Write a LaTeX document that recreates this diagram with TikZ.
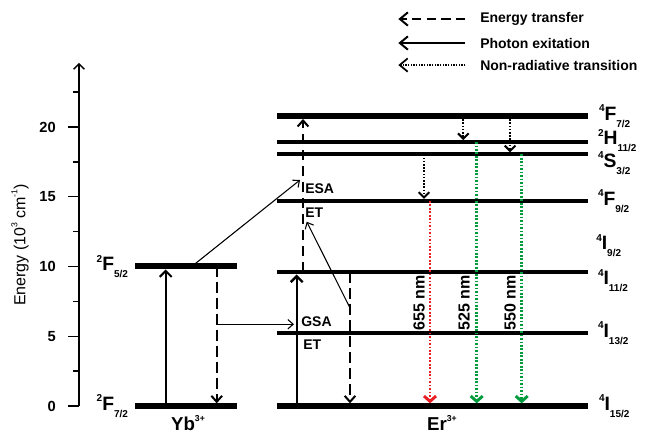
\documentclass[tikz,border=0pt]{standalone}
\usepackage{fontspec}
\setmainfont{Liberation Sans}
\usetikzlibrary{arrows.meta}

\definecolor{emred}{RGB}{235,30,35}
\definecolor{emgreen}{RGB}{0,155,60}

% term symbol: ^{2S+1}L_J
\newcommand{\term}[3]{\raisebox{0.45em}{\fontsize{7.5}{8}\selectfont#1}#2\raisebox{-0.36em}{\fontsize{7.5}{8}\selectfont#3}}
\newcommand{\sups}[1]{\raisebox{0.5em}{\fontsize{6.5}{7}\selectfont#1}}

\begin{document}
\begin{tikzpicture}[x=0.75pt, y=10.4625pt,
        lvl/.style={line width=3pt},
        glvl/.style={line width=4.5pt},
        term/.style={font=\fontsize{14.5}{15}\selectfont\bfseries, inner sep=0pt},
        lab/.style={font=\fontsize{10.5}{12}\selectfont\bfseries, inner sep=0pt},
        ticklab/.style={font=\fontsize{11}{12}\selectfont\bfseries, inner sep=0pt},
        wave/.style={font=\fontsize{12}{13}\selectfont\bfseries, inner sep=0pt, rotate=90},
        ionlab/.style={font=\fontsize{14}{15}\selectfont\bfseries, inner sep=0pt},
        photon/.style={line width=1.5pt, -{Straight Barb[length=4.5pt,width=9pt]}, shorten >=1.5pt},
        transfer/.style={line width=1.5pt, dash pattern=on 8pt off 4pt, -{Straight Barb[length=4.5pt,width=8pt]}, shorten >=2pt},
        etarrow/.style={line width=0.8pt, -{Straight Barb[length=4pt,width=7pt]}},
        nonrad/.style={line width=1.5pt, dash pattern=on 1.2pt off 1.2pt, -{Straight Barb[length=4pt,width=8pt]}, shorten >=1.5pt},
        emis/.style={line width=2.2pt, dash pattern=on 1.3pt off 1.3pt, -{Straight Barb[length=4pt,width=9pt]}, shorten >=2pt},
        legtip/.style={-{Straight Barb[length=6pt,width=10pt]}}
    ]
        \useasboundingbox (0,-2.079) rectangle (645,29.104);

        % energy axis
        \draw[line width=1.1pt, -{Straight Barb[length=4pt,width=8pt]}] (79,0) coordinate (ax0) -- (79,24.6) coordinate (axtop);
        \foreach \e in {0,5,...,20} {
            \draw[line width=1.1pt] (79,\e) -- (68,\e);
            \node[ticklab, anchor=east] at (56,\e) {\e};
        }
        \foreach \e in {2.5,7.5,...,22.5}
            \draw[line width=1.1pt] (79,\e) -- (73,\e);
        \node[font=\fontsize{12}{14}\selectfont, inner sep=0pt, rotate=90] (axlab) at (20,11.54) {Energy (10\sups{3} cm\sups{-1})};

        % Yb levels
        \draw[glvl] (135,10) node[term, anchor=east, xshift=-3pt] {\term{2}{F}{5/2}} coordinate (ybF52) -- (237,10);
        \draw[glvl] (135,0) node[term, anchor=east, xshift=-3pt] {\term{2}{F}{7/2}} coordinate (ybF72) -- (237,0);
        \node[ionlab, anchor=base] (yb) at (188,-1.75) {Yb\sups{3+}};

        % Er levels
        \draw[glvl] (277,20.79) coordinate (F72) -- (588,20.79) node[term, anchor=west, xshift=6pt] {\term{4}{F}{7/2}};
        \draw[lvl] (277,18.92) coordinate (H112) -- (588,18.92) node[term, anchor=west, xshift=6pt, yshift=1pt] {\term{2}{H}{11/2}};
        \draw[lvl] (277,18.04) coordinate (S32) -- (588,18.04) node[term, anchor=west, xshift=6pt, yshift=-6.5pt] {\term{4}{S}{3/2}};
        \draw[lvl] (277,14.70) coordinate (F92) -- (588,14.70) node[term, anchor=west, xshift=6pt] {\term{4}{F}{9/2}};
        \node[term, anchor=west] (I92) at (596,11.5) {\term{4}{I}{9/2}};
        \draw[lvl] (277,9.57) coordinate (I112) -- (588,9.57) node[term, anchor=west, xshift=6pt, yshift=-6pt] {\term{4}{I}{11/2}};
        \draw[lvl] (277,5.21) coordinate (I132) -- (588,5.21) node[term, anchor=west, xshift=6pt] {\term{4}{I}{13/2}};
        \draw[glvl] (277,0) coordinate (I152) -- (588,0) node[term, anchor=west, xshift=6pt] {\term{4}{I}{15/2}};
        \node[ionlab, anchor=base] (er) at (442,-1.75) {Er\sups{3+}};

        % Yb transitions
        \draw[photon, shorten >=2.25pt] (ybF72 -| 165.7,0) -- (ybF52 -| 165.7,0);
        \draw[transfer] (ybF52 -| 216.7,0) -- (ybF72 -| 216.7,0);
        \coordinate (ybet) at (216.7,5.86);
        \coordinate (gsa) at (294,5.86);
        \draw[etarrow] (ybet) -- (gsa);
        \coordinate (esa) at (300,16.2);
        \draw[etarrow] (ybF52 -| 191.7,0) -- (esa);

        % Er transitions
        \draw[photon, line width=1.8pt] (I152 -| 296.7,0) -- (I112 -| 296.7,0);
        \draw[transfer, shorten >=2.25pt] (I112 -| 303,0) -- (F72 -| 303,0);
        \coordinate (etdn) at (350,7.03);
        \coordinate (etup) at (306.7,13.21);
        \draw[etarrow] (etdn) -- (etup);
        \draw[transfer] (I112 -| 350,0) -- (I152 -| 350,0);
        \node[lab, anchor=west] (lbESA) at (305,15.56) {ESA};
        \node[lab, anchor=west] (lbET1) at (305,13.84) {ET};
        \node[lab, anchor=west] (lbGSA) at (301,6.02) {GSA};
        \node[lab, anchor=west] (lbET2) at (303,4.37) {ET};

        % non-radiative relaxation
        \draw[nonrad] (F72 -| 463.3,0) -- (H112 -| 463.3,0);
        \draw[nonrad] (F72 -| 510,0) -- (S32 -| 510,0);
        \draw[nonrad] (S32 -| 424,0) -- (F92 -| 424,0);

        % emission
        \draw[emis, emred] (F92 -| 430,0) -- (I152 -| 430,0);
        \draw[emis, emgreen] (H112 -| 476.7,0) -- (I152 -| 476.7,0);
        \draw[emis, emgreen] (S32 -| 521.7,0) -- (I152 -| 521.7,0);
        \node[wave] (w655) at (419,7.38) {655 nm};
        \node[wave] (w525) at (464,7.38) {525 nm};
        \node[wave] (w550) at (510,7.38) {550 nm};

        % legend
        \node[lab, anchor=west] (lgET) at (480,27.74) {Energy transfer};
        \node[lab, anchor=west] (lgPE) at (480,26.02) {Photon exitation};
        \node[lab, anchor=west] (lgNR) at (480,24.44) {Non-radiative transition};
        \draw[legtip, line width=1.5pt, dash pattern=on 7pt off 4pt] ([xshift=-11pt]lgET.west) -- ++(-67,0);
        \draw[legtip, line width=1.5pt] ([xshift=-11pt]lgPE.west) -- ++(-67,0);
        \draw[legtip, line width=1.3pt, dash pattern=on 1pt off 1pt] ([xshift=-11pt]lgNR.west) -- ++(-67,0);
    \end{tikzpicture}
\end{document}
